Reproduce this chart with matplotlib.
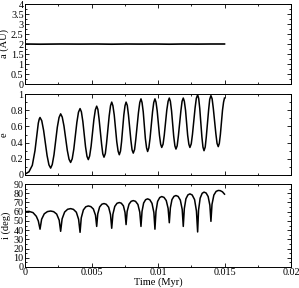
import matplotlib
matplotlib.use("Agg")
import matplotlib.pyplot as plt
from matplotlib.ticker import MultipleLocator, FormatStrFormatter

plt.rcParams['font.family'] = ['Liberation Serif', 'DejaVu Serif']
plt.rcParams['font.size'] = 7.5

# time in units of 1e-3 Myr
t_a = [0, 1.13, 2.68, 4.14, 5.39, 6.52, 7.60, 8.72, 9.77, 10.85, 11.90, 12.98, 13.98, 15.0]
a_au = [2.0, 1.99, 2.0, 1.995, 2.0, 1.99, 2.0, 1.995, 2.0, 1.99, 2.0, 1.995, 2.0, 2.0]

t_e = [0, 0.30, 0.55, 0.75, 0.90, 1.00, 1.07, 1.13,
       1.26, 1.40, 1.66, 1.80, 1.93,
       2.05, 2.18, 2.43, 2.56, 2.68,
       2.80, 2.93, 3.18, 3.31, 3.43,
       3.55, 3.67, 3.90, 4.02, 4.14,
       4.24, 4.35, 4.55, 4.66, 4.76,
       4.86, 4.97, 5.18, 5.29, 5.39,
       5.48, 5.57, 5.76, 5.85, 5.94,
       6.04, 6.13, 6.33, 6.43, 6.52,
       6.61, 6.71, 6.90, 7.00, 7.09,
       7.18, 7.26, 7.43, 7.52, 7.60,
       7.69, 7.78, 7.96, 8.05, 8.14,
       8.24, 8.33, 8.53, 8.63, 8.72,
       8.80, 8.89, 9.05, 9.14, 9.22,
       9.31, 9.40, 9.59, 9.68, 9.77,
       9.85, 9.94, 10.11, 10.20, 10.28,
       10.38, 10.47, 10.66, 10.76, 10.85,
       10.93, 11.02, 11.18, 11.27, 11.35,
       11.44, 11.53, 11.72, 11.81, 11.90,
       11.98, 12.07, 12.23, 12.32, 12.40,
       12.50, 12.59, 12.79, 12.88, 12.98,
       13.06, 13.14, 13.30, 13.38, 13.46,
       13.55, 13.63, 13.81, 13.89, 13.98,
       14.07, 14.16, 14.35, 14.44, 14.53,
       14.61, 14.69, 14.85, 14.93, 15.0]
ecc = [0.01, 0.04, 0.12, 0.30, 0.50, 0.64, 0.69, 0.71,
       0.67, 0.55, 0.24, 0.125, 0.085,
       0.13, 0.25, 0.59, 0.71, 0.755,
       0.715, 0.605, 0.305, 0.195, 0.155,
       0.20, 0.32, 0.65, 0.775, 0.82,
       0.78, 0.66, 0.35, 0.23, 0.19,
       0.235, 0.355, 0.685, 0.805, 0.85,
       0.81, 0.69, 0.38, 0.26, 0.22,
       0.265, 0.39, 0.73, 0.855, 0.90,
       0.855, 0.74, 0.41, 0.295, 0.25,
       0.295, 0.41, 0.74, 0.855, 0.90,
       0.86, 0.74, 0.43, 0.31, 0.27,
       0.315, 0.44, 0.77, 0.895, 0.94,
       0.895, 0.78, 0.45, 0.335, 0.29,
       0.335, 0.45, 0.78, 0.895, 0.94,
       0.90, 0.79, 0.49, 0.38, 0.34,
       0.38, 0.49, 0.80, 0.91, 0.95,
       0.91, 0.79, 0.48, 0.36, 0.32,
       0.36, 0.48, 0.79, 0.91, 0.95,
       0.91, 0.80, 0.49, 0.38, 0.34,
       0.385, 0.50, 0.83, 0.945, 0.99,
       0.945, 0.82, 0.47, 0.345, 0.30,
       0.345, 0.47, 0.81, 0.935, 0.98,
       0.94, 0.82, 0.51, 0.39, 0.35,
       0.39, 0.50, 0.80, 0.90, 0.95]

t_i = [0, 0.3, 0.6, 0.85, 1.0, 1.13,
       1.25, 1.45, 1.69, 1.93, 2.155, 2.38, 2.57, 2.68,
       2.79, 2.98, 3.205, 3.43, 3.64, 3.86, 4.03, 4.14,
       4.23, 4.39, 4.57, 4.76, 4.95, 5.14, 5.30, 5.39,
       5.47, 5.61, 5.78, 5.94, 6.11, 6.29, 6.43, 6.52,
       6.61, 6.75, 6.92, 7.09, 7.24, 7.40, 7.52, 7.60,
       7.68, 7.82, 7.98, 8.14, 8.31, 8.49, 8.63, 8.72,
       8.80, 8.92, 9.07, 9.22, 9.385, 9.55, 9.69, 9.77,
       9.85, 9.97, 10.13, 10.28, 10.45, 10.62, 10.76, 10.85,
       10.93, 11.05, 11.20, 11.35, 11.515, 11.68, 11.82, 11.90,
       11.98, 12.10, 12.25, 12.40, 12.57, 12.75, 12.89, 12.98,
       13.05, 13.17, 13.32, 13.46, 13.62, 13.77, 13.90, 13.98,
       14.06, 14.20, 14.37, 14.53, 14.68, 14.85, 15.0]
inc = [60, 60.3, 59, 55, 50, 41,
       51.8, 57.7, 60.1, 60.7, 60.0, 57.4, 50.8, 38.7,
       52.2, 59.6, 62.6, 63.3, 62.5, 59.4, 51.7, 37.6,
       53.3, 61.9, 65.3, 66.2, 65.5, 62.9, 56.2, 44,
       57.6, 65.1, 68.1, 68.8, 68.0, 64.8, 56.7, 42,
       57.3, 65.7, 69.1, 69.9, 69.2, 66.3, 59.1, 46,
       60.3, 68.1, 71.2, 72, 71.2, 67.8, 59.4, 44,
       60.4, 69.4, 73.0, 73.9, 72.9, 69, 59.1, 41,
       60.5, 71.1, 75.3, 76.4, 75.5, 72.1, 63.6, 48,
       64.2, 73.1, 76.6, 77.5, 76.5, 72.5, 62.4, 44,
       63.4, 74, 78.2, 79.3, 78.1, 73.1, 60.7, 38,
       61.8, 74.7, 79.9, 81.2, 80.2, 76.4, 66.9, 49.5,
       67.9, 78, 82.0, 83, 82.8, 81.5, 79]

fig = plt.figure(figsize=(2.99, 2.88), dpi=100)
left, width = 25 / 299, 266 / 299
ax1 = fig.add_axes([left, 1 - 84 / 288, width, 80 / 288])
ax2 = fig.add_axes([left, 1 - 175 / 288, width, 81 / 288])
ax3 = fig.add_axes([left, 1 - 267 / 288, width, 83 / 288])

ax1.plot([t / 1000 for t in t_a], a_au, color='black', lw=1.2)
ax2.plot([t / 1000 for t in t_e], ecc, color='black', lw=1.1)
ax3.plot([t / 1000 for t in t_i], inc, color='black', lw=1.1)

ax1.set_ylim(0, 4)
ax1.yaxis.set_major_locator(MultipleLocator(0.5))
ax1.yaxis.set_minor_locator(MultipleLocator(0.25))
ax1.set_ylabel('a (AU)', labelpad=1.5)

ax2.set_ylim(0, 1)
ax2.yaxis.set_major_locator(MultipleLocator(0.2))
ax2.yaxis.set_minor_locator(MultipleLocator(0.1))
ax2.set_ylabel('e', labelpad=1.5)

ax3.set_ylim(0, 90)
ax3.yaxis.set_major_locator(MultipleLocator(10))
ax3.yaxis.set_minor_locator(MultipleLocator(5))
ax3.set_ylabel('i (deg)', labelpad=1.5)
ax3.set_xlabel('Time (Myr)', labelpad=0)

for ax in (ax1, ax2, ax3):
    ax.set_xlim(0, 0.02)
    ax.xaxis.set_major_locator(MultipleLocator(0.005))
    ax.xaxis.set_minor_locator(MultipleLocator(0.0025))
    ax.xaxis.set_major_formatter(FormatStrFormatter('%g'))
    ax.yaxis.set_major_formatter(FormatStrFormatter('%g'))
    ax.tick_params(which='both', direction='in', top=True, right=True,
                   width=0.6, pad=1, labelsize=7.3)
    ax.tick_params(which='major', length=3)
    ax.tick_params(which='minor', length=1.6)
    for s in ax.spines.values():
        s.set_linewidth(0.7)
    if ax is not ax3:
        ax.tick_params(labelbottom=False)

fig.savefig('out.png', dpi=100)
